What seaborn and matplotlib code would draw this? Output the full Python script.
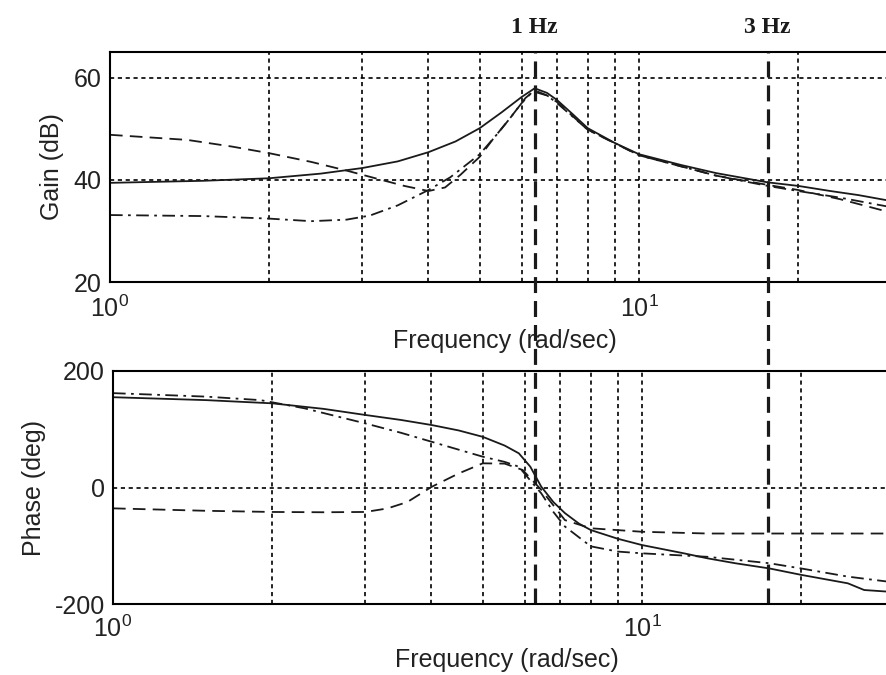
import matplotlib
matplotlib.use("Agg")
import matplotlib.pyplot as plt
import numpy as np
import pandas as pd
import seaborn as sns

# ---------------- data ----------------
gain_solid_w = [1, 1.5, 2, 2.5, 3, 3.5, 4, 4.5, 5, 5.5, 6, 6.35, 6.7, 7, 7.5, 8, 9, 10, 12, 14, 17.5, 20, 23, 26, 29.4]
gain_solid = [39.4, 39.8, 40.3, 41.2, 42.3, 43.6, 45.4, 47.5, 50.1, 53.2, 56.2, 57.9, 57.0, 55.6, 52.8, 50.1, 47.2, 45.0, 42.9, 41.3, 39.5, 38.8, 37.8, 37.0, 36.0]

gain_dash_w = [1, 1.4, 1.7, 2, 2.4, 2.8, 3.2, 3.6, 4.0, 4.3, 4.6, 5.0, 5.3, 5.7, 6.1, 6.35, 6.7, 7, 8, 10, 14, 17.5, 20, 24, 29.4]
gain_dash = [48.8, 47.8, 46.5, 45.2, 43.5, 41.8, 40.2, 38.8, 37.8, 38.5, 41.0, 44.5, 48.0, 52.0, 56.0, 57.5, 56.5, 55.2, 49.8, 44.8, 40.8, 39.0, 38.0, 36.2, 33.8]

gain_dashdot_w = [1, 1.5, 2, 2.4, 2.8, 3.1, 3.5, 4.0, 4.4, 5.0, 5.4, 5.7, 6.0, 6.3, 6.7, 7, 8, 10, 14, 17.5, 20, 24, 29.4]
gain_dashdot = [33.1, 32.9, 32.4, 31.9, 32.2, 33.0, 35.0, 38.0, 40.5, 45.0, 49.0, 52.0, 55.0, 57.3, 56.5, 55.0, 49.8, 44.8, 40.8, 38.8, 37.8, 36.5, 34.8]

phase_solid_w = [1, 1.5, 2, 2.5, 3, 3.5, 4, 4.5, 5, 5.5, 5.85, 6.15, 6.45, 6.8, 7.15, 7.6, 8, 9, 10, 12, 13.3, 15, 17.4, 20, 24.5, 26.3, 29.4]
phase_solid = [155, 150, 144.5, 135, 124.5, 116, 107.3, 98, 87, 72, 58.7, 35.7, 1.4, -25, -44, -62, -73, -88, -98.8, -113, -121.6, -130, -138.9, -150, -164.5, -176, -179]

phase_dash_w = [1, 1.5, 2, 2.5, 3, 3.3, 3.6, 4, 4.5, 5, 5.5, 5.95, 6.45, 7.15, 8, 10, 13.3, 20, 29.4]
phase_dash = [-35.8, -40, -42, -42.5, -42, -36, -25, 1, 24, 41.5, 41, 30, -4, -56, -70, -76, -79, -79, -79]

phase_dashdot_w = [1, 1.5, 1.9, 2.3, 2.6, 3, 3.5, 4, 4.5, 5, 5.5, 5.85, 6.15, 6.45, 6.8, 7.15, 8, 9, 10, 13.3, 17.4, 20, 24.5, 29.4]
phase_dashdot = [162, 156, 150, 136, 124, 110, 94, 78.6, 65, 52.9, 44, 35.7, 12, -10, -42, -67, -101, -110, -113, -119, -130, -139, -153, -162]

marker_freqs = [6.35, 17.5]
marker_labels = ["1 Hz", "3 Hz"]

gain_ticks = [20, 40, 60]
phase_ticks = [-200, 0, 200]
x_ticks = [1, 10]
x_ticklabels = ["$10^0$", "$10^1$"]

# ---------------- style ----------------
sns.set_theme(style="white")
plt.rcParams.update({
    "font.family": ["Liberation Sans", "DejaVu Sans"],
    "mathtext.default": "regular",
    "axes.unicode_minus": False,
    "font.size": 18,
    "axes.edgecolor": "black",
    "axes.linewidth": 1.5,
    "xtick.major.size": 0, "ytick.major.size": 0,
    "xtick.minor.size": 0, "ytick.minor.size": 0,
    "xtick.color": "#222222", "ytick.color": "#222222",
    "axes.labelcolor": "#222222",
})

ink = "#1a1a1a"
fig = plt.figure(figsize=(8.87, 6.75), dpi=100)
ax1 = fig.add_axes([110 / 887, 393 / 675, 790 / 887, 230 / 675])
ax2 = fig.add_axes([113 / 887, 71 / 675, 787 / 887, 233 / 675])
ax2.patch.set_visible(False)

grid_kw = dict(color="black", linewidth=1.2, linestyle=(0, (2.5, 2.2)))

def style_axis(ax, ylim, yticks, xmax, xpad):
    ax.set_xscale("log")
    ax.set_xlim(1, xmax)
    ax.set_ylim(*ylim)
    ax.set_yticks(yticks)
    ax.set_xticks(x_ticks)
    ax.set_xticklabels(x_ticklabels)
    ax.xaxis.set_minor_formatter(matplotlib.ticker.NullFormatter())
    ax.grid(False)
    ax.grid(True, which="both", axis="x", **grid_kw)
    ax.grid(True, which="major", axis="y", **grid_kw)
    ax.tick_params(axis="y", which="major", labelsize=18, pad=6)
    ax.tick_params(axis="x", which="major", labelsize=18, pad=xpad)
    for s in ["top", "left", "bottom"]:
        ax.spines[s].set_linewidth(1.5)
        ax.spines[s].set_color("black")
    ax.spines["right"].set_visible(False)

style_axis(ax1, (20, 65), gain_ticks, 10 ** (790 / 529), 10)
style_axis(ax2, (-200, 200), phase_ticks, 10 ** (787 / 529), 8)

dash = (0, (7, 4))
dashdot = (0, (7, 3, 1.5, 3))

def draw(ax, x, y, ls):
    df = pd.DataFrame({"w": x, "v": y})
    sns.lineplot(data=df, x="w", y="v", ax=ax, color=ink, linewidth=1.3,
                 linestyle=ls, errorbar=None, sort=True)

draw(ax1, gain_solid_w, gain_solid, "-")
draw(ax1, gain_dash_w, gain_dash, dash)
draw(ax1, gain_dashdot_w, gain_dashdot, dashdot)
draw(ax2, phase_solid_w, phase_solid, "-")
draw(ax2, phase_dash_w, phase_dash, dash)
draw(ax2, phase_dashdot_w, phase_dashdot, dashdot)
ax1.set_xlabel("Frequency (rad/sec)", fontsize=18, labelpad=5)
ax2.set_xlabel("Frequency (rad/sec)", fontsize=18, labelpad=5)
ax1.set_ylabel("Gain (dB)", fontsize=18, labelpad=7)
ax2.set_ylabel("Phase (deg)", fontsize=18, labelpad=6)

# thick dashed frequency markers spanning both panels
span_low = -(604 - 282) / 230
for fx, lab in zip(marker_freqs, marker_labels):
    ax1.axvline(fx, ymin=span_low, ymax=1, clip_on=False, color=ink,
                linewidth=2.3, linestyle=(0, (5, 2.5)), zorder=5)
    ax1.annotate(lab, xy=(fx, 1), xycoords=("data", "axes fraction"),
                 xytext=(0, 14), textcoords="offset points",
                 ha="center", va="baseline", fontsize=17, fontweight="bold",
                 family=["Liberation Serif", "DejaVu Serif"], color=ink)

fig.savefig("out.png", dpi=100, facecolor="white")
